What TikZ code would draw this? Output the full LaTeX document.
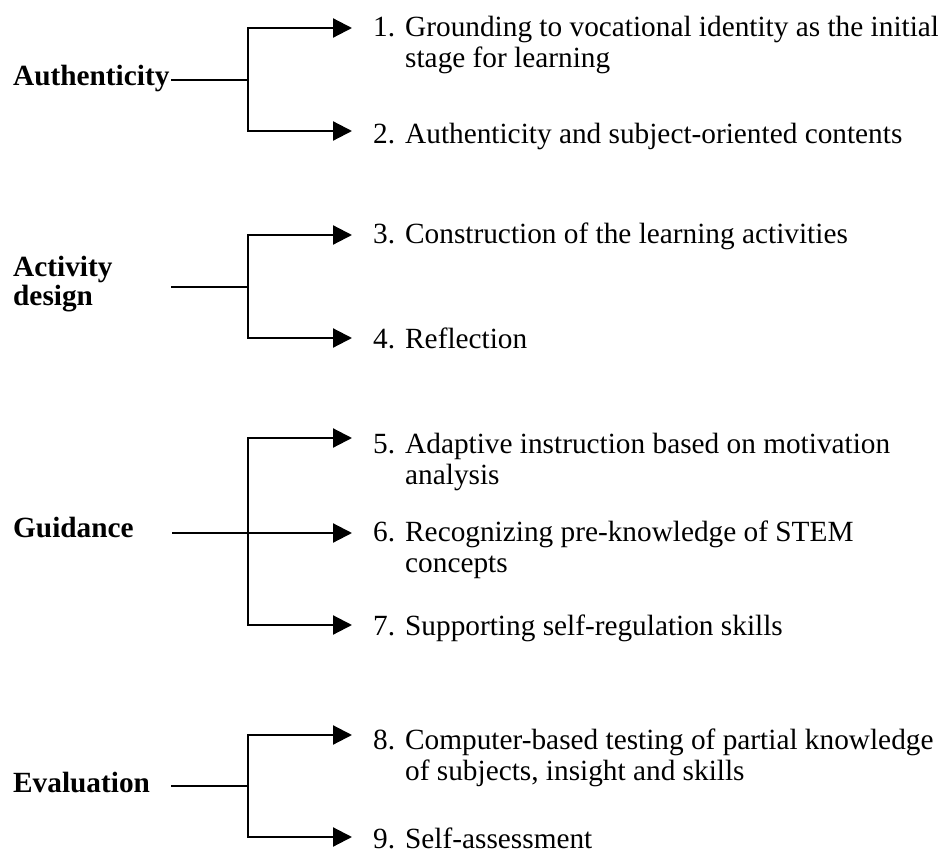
\documentclass[tikz,border=0pt]{standalone}
\usepackage{fontspec}
\setmainfont{Liberation Serif}
\usetikzlibrary{arrows.meta}
\newcommand{\itemtxt}[3]{\begin{tabular}[t]{@{}p{32pt}@{}l@{}}#1&#2\\&#3\end{tabular}}
\newcommand{\itemone}[2]{\begin{tabular}[t]{@{}p{32pt}@{}l@{}}#1&#2\end{tabular}}
\begin{document}
\begin{tikzpicture}[x=1pt,y=-1pt,
  conn/.style={line width=2.2pt,line cap=rect},
  arr/.style={line width=2.2pt,-{Triangle[length=19pt,width=19pt]}},
  cat/.style={font=\fontsize{29.3}{30}\selectfont\bfseries, inner sep=0pt, anchor=base west},
  itm/.style={font=\fontsize{29.3}{31}\selectfont, inner sep=0pt, anchor=base west}]
\useasboundingbox[fill=white] (0,0) rectangle (938,851);

% ---------- Group 1: Authenticity
\node[cat] (auth) at (13,85) {Authenticity};
\coordinate (s1) at (172,80);
\coordinate (j1) at (248,80);
\coordinate (t1) at (248,28);
\coordinate (b1) at (248,131);
\coordinate (e1a) at (352,28);
\coordinate (e1b) at (352,131);
\node[itm] (i1) at (373,37) {\itemtxt{1.}{Grounding to vocational identity as the initial}{stage for learning}};
\node[itm] (i2) at (373,143) {\itemone{2.}{Authenticity and subject-oriented contents}};
\draw[conn] (s1) -- (j1);
\draw[conn] (t1) -- (b1);
\draw[arr] (t1) -- (e1a);
\draw[arr] (b1) -- (e1b);

% ---------- Group 2: Activity design
\node[cat] (act) at (13,276) {\begin{tabular}[t]{@{}l@{}}Activity\\[-1pt]design\end{tabular}};
\coordinate (s2) at (172,287);
\coordinate (j2) at (248,287);
\coordinate (t2) at (248,235);
\coordinate (b2) at (248,338);
\coordinate (e2a) at (352,235);
\coordinate (e2b) at (352,338);
\node[itm] (i3) at (373,243) {\itemone{3.}{Construction of the learning activities}};
\node[itm] (i4) at (373,348) {\itemone{4.}{Reflection}};
\draw[conn] (s2) -- (j2);
\draw[conn] (t2) -- (b2);
\draw[arr] (t2) -- (e2a);
\draw[arr] (b2) -- (e2b);

% ---------- Group 3: Guidance
\node[cat] (guid) at (13,537) {Guidance};
\coordinate (s3) at (172,533);
\coordinate (t3) at (248,438);
\coordinate (b3) at (248,625);
\coordinate (e3a) at (352,438);
\coordinate (e3b) at (352,533);
\coordinate (e3c) at (352,625);
\node[itm] (i5) at (373,453) {\itemtxt{5.}{Adaptive instruction based on motivation}{analysis}};
\node[itm] (i6) at (373,541) {\itemtxt{6.}{Recognizing pre-knowledge of STEM}{concepts}};
\node[itm] (i7) at (373,635) {\itemone{7.}{Supporting self-regulation skills}};
\draw[conn] (t3) -- (b3);
\draw[arr] (s3) -- (e3b);
\draw[arr] (t3) -- (e3a);
\draw[arr] (b3) -- (e3c);

% ---------- Group 4: Evaluation
\node[cat] (eval) at (13,792) {Evaluation};
\coordinate (s4) at (172,786);
\coordinate (j4) at (248,786);
\coordinate (t4) at (248,735);
\coordinate (b4) at (248,837);
\coordinate (e4a) at (352,735);
\coordinate (e4b) at (352,837);
\node[itm] (i8) at (373,749) {\itemtxt{8.}{Computer-based testing of partial knowledge}{of subjects, insight and skills}};
\node[itm] (i9) at (373,848) {\itemone{9.}{Self-assessment}};
\draw[conn] (s4) -- (j4);
\draw[conn] (t4) -- (b4);
\draw[arr] (t4) -- (e4a);
\draw[arr] (b4) -- (e4b);
\end{tikzpicture}
\end{document}
